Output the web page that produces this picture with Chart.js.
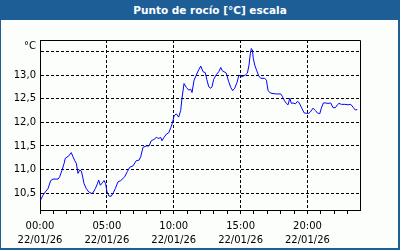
<!DOCTYPE html>
<html>
<head>
<meta charset="utf-8">
<script src="https://cdn.jsdelivr.net/npm/chart.js@4/dist/chart.umd.min.js"></script>
<style>
  html, body { margin: 0; padding: 0; background: #fcfefc; }
  #wrap { position: relative; width: 400px; height: 250px; overflow: hidden; background: #fcfefc; }
  #chart { position: absolute; left: 0; top: 0; }
  #frame { position: absolute; left: 0; top: 0; width: 400px; height: 250px; box-sizing: border-box;
           border-left: 1px solid #1d5e97; border-right: 2px solid #1d5e97; border-bottom: 2px solid #1d5e97; pointer-events: none; }
  #title { position: absolute; left: 0; top: 0; width: 400px; height: 20px; background: #1d5e97; }
  #title span { position: absolute; left: 20px; width: 380px; top: 4px; height: 13px; line-height: 13px; text-align: center;
                color: #ffffff; font: bold 10.5px "DejaVu Sans", sans-serif; }
</style>
</head>
<body>
<div id="wrap">
  <canvas id="chart" width="400" height="250"></canvas>
  <div id="frame"></div>
  <div id="title"><span>Punto de rocío [°C] escala</span></div>
</div>
<script>
const chartTitle = 'Punto de rocío [°C] escala';
const unitLabel = '°C';
const dateLabel = '22/01/26';

// time of day in hours
const hours = [
  0.05, 0.22, 0.40, 0.60, 0.80, 0.97, 1.35, 1.47, 1.65, 1.80, 1.89, 2.15, 2.34, 2.47, 2.60, 2.72, 2.84, 2.97,
  3.09, 3.16, 3.29, 3.46, 3.64, 3.84, 3.96, 4.14, 4.29, 4.39, 4.51, 4.66, 4.79, 4.91, 5.01, 5.16, 5.33, 5.48,
  5.63, 5.83, 6.04, 6.34, 6.53, 6.71, 6.96, 7.20, 7.40, 7.53, 7.70, 7.95, 8.15, 8.32, 8.53, 8.70, 8.88, 9.03,
  9.12, 9.27, 9.45, 9.63, 9.78, 9.90, 10.02, 10.19, 10.37, 10.52, 10.62, 10.77, 10.94, 11.12, 11.27, 11.37,
  11.52, 11.69, 11.87, 12.02, 12.19, 12.36, 12.47, 12.62, 12.77, 12.86, 12.99, 13.19, 13.37, 13.52, 13.63,
  13.76, 13.93, 14.11, 14.26, 14.41, 14.56, 14.73, 14.86, 14.98, 15.06, 15.21, 15.36, 15.51, 15.63, 15.73,
  15.80, 15.88, 15.95, 16.06, 16.21, 16.36, 16.51, 16.81, 16.93, 17.05, 17.18, 17.35, 17.67, 18.00, 18.12,
  18.25, 18.42, 18.55, 18.68, 18.80, 18.92, 19.10, 19.24, 19.37, 19.54, 19.75, 19.92, 20.10, 20.22, 20.42,
  20.59, 20.74, 20.92, 21.04, 21.19, 21.34, 21.54, 21.74, 21.91, 22.09, 22.24, 22.36, 22.54, 22.79, 23.04,
  23.24, 23.41, 23.58, 23.73
];

// dew point in °C
const dewPoint = [
  10.36, 10.46, 10.53, 10.60, 10.77, 10.80, 10.80, 10.85, 10.99, 11.13, 11.24, 11.29, 11.36, 11.27, 11.19, 11.13, 10.92, 10.99,
  10.97, 10.89, 10.71, 10.60, 10.53, 10.50, 10.51, 10.60, 10.70, 10.78, 10.67, 10.72, 10.77, 10.70, 10.53, 10.44, 10.44, 10.51,
  10.60, 10.74, 10.77, 10.85, 10.96, 11.05, 11.08, 11.19, 11.20, 11.27, 11.47, 11.50, 11.50, 11.61, 11.64, 11.68, 11.66, 11.68,
  11.61, 11.68, 11.75, 11.78, 11.89, 11.98, 12.13, 12.18, 12.11, 12.25, 12.51, 12.82, 12.74, 12.68, 12.70, 12.63,
  12.89, 13.00, 13.11, 13.19, 13.07, 13.05, 12.91, 12.75, 12.72, 12.75, 12.91, 13.01, 13.07, 13.16, 13.09,
  13.07, 13.04, 12.86, 12.74, 12.67, 12.72, 12.84, 12.98, 13.00, 12.96, 12.98, 13.00, 13.04, 13.21, 13.46,
  13.56, 13.53, 13.35, 13.21, 13.09, 12.98, 12.93, 12.93, 12.89, 12.68, 12.63, 12.61, 12.60, 12.60, 12.55,
  12.47, 12.40, 12.37, 12.51, 12.40, 12.41, 12.39, 12.44, 12.42, 12.32, 12.20, 12.19, 12.19, 12.22, 12.30,
  12.25, 12.20, 12.18, 12.30, 12.41, 12.41, 12.40, 12.41, 12.31, 12.31, 12.37, 12.40, 12.38, 12.38, 12.37,
  12.38, 12.32, 12.26, 12.27
];

const yTickValues = [10.5, 11.0, 11.5, 12.0, 12.5, 13.0, 13.5];
const yTickLabels = ['10,5', '11,0', '11,5', '12,0', '12,5', '13,0', ''];
const xTickHours = [0,1,2,3,4,5,6,7,8,9,10,11,12,13,14,15,16,17,18,19,20,21,22,23];
const xLabelHours = [0, 5, 10, 15, 20];
const xTimeLabels = ['00:00', '05:00', '10:00', '15:00', '20:00'];

const FONT = { family: '"DejaVu Sans", sans-serif', size: 10 };

const framePlugin = {
  id: 'frameBox',
  afterDraw(chart) {
    const { ctx, chartArea: a } = chart;
    ctx.save();
    ctx.strokeStyle = '#000';
    ctx.lineWidth = 1;
    ctx.beginPath();
    ctx.moveTo(Math.round(a.left) + 0.5, Math.round(a.top) + 0.5);
    ctx.lineTo(Math.round(a.right) + 0.5, Math.round(a.top) + 0.5);
    ctx.lineTo(Math.round(a.right) + 0.5, Math.round(a.bottom) + 0.5);
    ctx.stroke();
    ctx.fillStyle = '#000';
    ctx.font = '10px "DejaVu Sans", sans-serif';
    ctx.textAlign = 'right';
    ctx.textBaseline = 'middle';
    ctx.fillText(unitLabel, a.left - 4, a.top + 6);
    ctx.restore();
  }
};

new Chart(document.getElementById('chart'), {
  type: 'line',
  data: {
    datasets: [{
      data: hours.map((h, i) => ({ x: h, y: dewPoint[i] })),
      borderColor: '#0000ff',
      borderWidth: 1,
      pointRadius: 0,
      tension: 0,
      fill: false
    }]
  },
  options: {
    responsive: false,
    animation: false,
    events: [],
    layout: { padding: { left: 0, top: 40, right: 40, bottom: 0 } },
    plugins: { legend: { display: false }, title: { display: false }, tooltip: { enabled: false } },
    scales: {
      x: {
        type: 'linear',
        min: 0,
        max: 23.93,
        afterFit(s) { s.height = 40; },
        afterBuildTicks(s) { s.ticks = xTickHours.map(v => ({ value: v })); },
        grid: {
          color: c => (c.tick && xLabelHours.includes(c.tick.value)) ? '#000' : 'rgba(0,0,0,0)',
          lineWidth: 1,
          drawTicks: true,
          tickLength: 4,
          tickColor: '#000',
          tickWidth: 1
        },
        border: { display: true, color: '#000', width: 1, dash: [3, 2] },
        ticks: {
          autoSkip: false,
          maxRotation: 0,
          padding: 5,
          color: '#000',
          font: { ...FONT, lineHeight: 1.4 },
          callback: (v) => {
            const k = xLabelHours.indexOf(v);
            return k >= 0 ? [xTimeLabels[k], dateLabel] : '';
          }
        }
      },
      y: {
        type: 'linear',
        min: 10.147,
        max: 13.74,
        afterFit(s) { s.width = 40; },
        afterBuildTicks(s) { s.ticks = yTickValues.map(v => ({ value: v })); },
        grid: { color: '#000', lineWidth: 1, drawTicks: false },
        border: { display: true, color: '#000', width: 1, dash: [3, 2] },
        ticks: {
          padding: 4,
          color: '#000',
          font: FONT,
          callback: (v) => {
            const k = yTickValues.indexOf(v);
            return k >= 0 ? yTickLabels[k] : '';
          }
        }
      }
    }
  },
  plugins: [framePlugin]
});
</script>
</body>
</html>
